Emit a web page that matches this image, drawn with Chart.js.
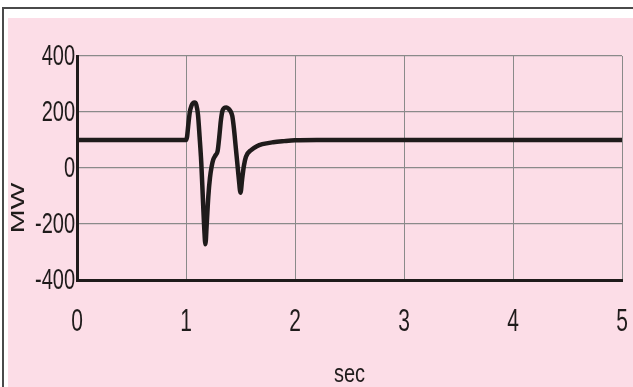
<!DOCTYPE html>
<html>
<head>
<meta charset="utf-8">
<script src="https://cdn.jsdelivr.net/npm/chart.js@4/dist/chart.umd.min.js"></script>
<style>
  html, body { margin: 0; padding: 0; background: #ffffff; }
  #wrap { width: 633px; height: 387px; }
</style>
</head>
<body>
<div id="wrap"><canvas id="c" width="633" height="387"></canvas></div>
<script>
// Active power transient after a disturbance at t = 1 s
const timeSec = [0, 0.5, 1.0, 1.01, 1.02, 1.035, 1.05, 1.065, 1.08, 1.095, 1.11, 1.125, 1.14, 1.155, 1.168, 1.178,
  1.19, 1.205, 1.22, 1.235, 1.25, 1.27, 1.29, 1.305, 1.32, 1.335, 1.35, 1.37, 1.39, 1.41, 1.425, 1.44, 1.455,
  1.47, 1.485, 1.5, 1.515, 1.53, 1.55, 1.6, 1.65, 1.7, 1.8, 1.9, 2.0, 2.2, 3, 4, 5];
const powerMW = [100, 100, 100, 112, 150, 200, 222, 232, 234, 225, 190, 110, 20, -110, -220, -272,
  -200, -100, -35, 5, 30, 45, 60, 110, 170, 205, 214, 216, 212, 202, 185, 140, 80,
  20, -40, -88, -40, 5, 40, 65, 78, 85, 92, 96, 99, 100, 100, 100, 100];
const xTicks = [0, 1, 2, 3, 4, 5];
const yTicks = [-400, -200, 0, 200, 400];
const xTitle = 'sec';
const yTitle = 'MW';

const INK = '#1f1b1b';
const GRID = '#8a8a8a';
const PINK = '#fcdde7';
const LABEL_FONT = '"Liberation Sans Narrow", "Liberation Sans", Arial, sans-serif';

function stretchedText(ctx, text, x, y, sx, sy, angle) {
  ctx.save();
  ctx.translate(x, y);
  if (angle) ctx.rotate(angle);
  ctx.scale(sx, sy);
  ctx.fillText(text, 0, 0);
  ctx.restore();
}

// page frame and pink panel
const panel = {
  id: 'panel',
  beforeDraw(chart) {
    const ctx = chart.ctx;
    ctx.save();
    ctx.fillStyle = '#ffffff';
    ctx.fillRect(0, 0, chart.width, chart.height);
    ctx.fillStyle = '#4a4a4a';
    ctx.fillRect(2, 7, chart.width - 2, 2);
    ctx.fillRect(2, 7, 2, chart.height - 7);
    ctx.fillStyle = PINK;
    ctx.fillRect(8, 18, chart.width - 8, chart.height - 18);
    ctx.restore();
  }
};

// tick labels and axis titles in the condensed lettering
const lettering = {
  id: 'lettering',
  afterDraw(chart) {
    const ctx = chart.ctx;
    const xs = chart.scales.x, ys = chart.scales.y;
    ctx.save();
    ctx.fillStyle = INK;
    ctx.font = '20px ' + LABEL_FONT;
    ctx.textAlign = 'right';
    ctx.textBaseline = 'middle';
    ys.ticks.forEach(t => stretchedText(ctx, String(t.value), 75, ys.getPixelForValue(t.value) + 1, 1, 1.45));
    ctx.textAlign = 'center';
    ctx.font = '21px ' + LABEL_FONT;
    xs.ticks.forEach(t => stretchedText(ctx, String(t.value), xs.getPixelForValue(t.value), 322, 1, 1.5));
    ctx.font = '20px ' + LABEL_FONT;
    stretchedText(ctx, xTitle, (xs.left + xs.right) / 2, 375, 1, 1.3);
    ctx.font = '19px "Liberation Sans", Arial, sans-serif';
    stretchedText(ctx, yTitle, 19, 208, 1.5, 1, -Math.PI / 2);
    ctx.restore();
  }
};

new Chart(document.getElementById('c'), {
  type: 'line',
  data: {
    datasets: [{
      data: timeSec.map((t, i) => ({ x: t, y: powerMW[i] })),
      borderColor: INK,
      borderWidth: 4.5,
      pointRadius: 0,
      cubicInterpolationMode: 'monotone',
      fill: false
    }]
  },
  options: {
    responsive: false,
    animation: false,
    events: [],
    layout: { padding: { top: 56, right: 11, left: 0, bottom: 0 } },
    plugins: { legend: { display: false }, tooltip: { enabled: false } },
    scales: {
      x: {
        type: 'linear',
        min: 0, max: 5,
        afterBuildTicks: s => { s.ticks = xTicks.map(v => ({ value: v })); },
        afterFit: s => { s.height = 107; },
        ticks: { display: false },
        grid: { color: GRID, lineWidth: 1, drawTicks: false },
        border: { display: true, color: INK, width: 3 }
      },
      y: {
        type: 'linear',
        min: -400, max: 400,
        afterBuildTicks: s => { s.ticks = yTicks.map(v => ({ value: v })); },
        afterFit: s => { s.width = 77; },
        ticks: { display: false },
        grid: { color: GRID, lineWidth: 1.2, drawTicks: false },
        border: { display: true, color: INK, width: 3 }
      }
    }
  },
  plugins: [panel, lettering]
});
</script>
</body>
</html>
